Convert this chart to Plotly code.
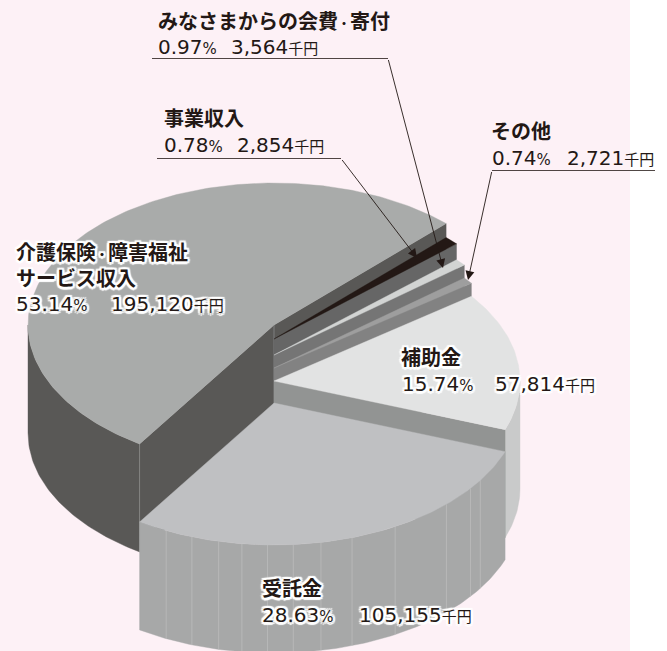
import math
import plotly.graph_objects as go

# ---- data -----------------------------------------------------------------
names = ["介護保険・障害福祉<br>サービス収入", "みなさまからの会費・寄付", "事業収入", "その他", "補助金", "受託金"]
amounts = [195120, 3564, 2854, 2721, 57814, 105155]   # 千円
percents = [53.14, 0.97, 0.78, 0.74, 15.74, 28.63]

# ---- styling / geometry ----------------------------------------------------
W, H = 667, 651
CX, RX, RY, DEPTH = 274, 246, 142, 108
START_DEG = 45.6
clockwise = [1, 2, 3, 4, 5, 0]
centre_y = [325, 339, 355, 368, 381, 403]
top_col = ["#A9ABAA", "#231815", "#D2D4D3", "#9E9E9E", "#E2E3E3", "#BFC0C2"]
wall_col = ["#595856", "#5F5F5F", "#757575", "#828282", "#C9CACA", "#A7A8A8"]
cut_col = ["#595856", "#666666", "#757575", "#828282", "#929493", "#A7A8A8"]
seam_deg = [-116.0, -109.5, -103.0, -97.5, -91.5, -85.5, -79.0, -71.5, -60.5, -45.5, -37.0, -33.0]
INK = "#231815"
HALO = ",".join(f"{dx}px {dy}px 1px #fff" for dx, dy in
                [(2.5, 0), (-2.5, 0), (0, 2.5), (0, -2.5), (2, 2), (-2, 2), (2, -2), (-2, -2)])


def pt(cy, deg, drop=0):
    r = math.radians(deg)
    return CX + RX * math.cos(r), cy - RY * math.sin(r) + drop


def arc(cy, d0, d1, drop=0):
    n = max(2, int(abs(d1 - d0)) + 2)
    return [pt(cy, d0 + (d1 - d0) * i / (n - 1), drop) for i in range(n)]


fig = go.Figure()


def poly(points, color):
    xs = [p[0] for p in points] + [points[0][0]]
    ys = [p[1] for p in points] + [points[0][1]]
    fig.add_trace(go.Scatter(x=xs, y=ys, mode="lines", fill="toself", fillcolor=color,
                             line=dict(color=color, width=0.4), hoverinfo="skip", showlegend=False))


def seg(p, q, color, width=1):
    fig.add_trace(go.Scatter(x=[p[0], q[0]], y=[p[1], q[1]], mode="lines",
                             line=dict(color=color, width=width), hoverinfo="skip", showlegend=False))


# angular span of each slice, clockwise from the start angle
total = sum(amounts)
edge = START_DEG
spans = {}
for i in clockwise:
    next_edge = edge - 360 * amounts[i] / total
    spans[i] = (edge, next_edge)
    edge = next_edge

# slices, back to front
for i in range(len(amounts)):
    hi, lo = spans[i]
    cy = centre_y[i]
    apex = (CX, cy)
    # outer rim: only the part facing the viewer
    a2, b2 = min(hi, 0), max(lo, -180)
    if a2 > b2:
        poly(arc(cy, a2, b2) + arc(cy, b2, a2, DEPTH), wall_col[i])
    # straight cut faces that face the viewer
    for deg, normal in ((hi, hi + 90), (lo, lo - 90)):
        if math.sin(math.radians(normal)) < 0:
            c = pt(cy, deg)
            poly([apex, c, (c[0], c[1] + DEPTH), (CX, cy + DEPTH)], cut_col[i])
    if i == 0:
        c = pt(cy, hi)
        seg(c, (c[0], c[1] + DEPTH), "#8C8C8A", 0.8)
        seg(apex, (CX, cy + 56), "#8C8C8A", 0.8)
    # seams on the rim of the front slice
    if i == 5:
        for d in seam_deg:
            seg(pt(cy, d), pt(cy, d, DEPTH), "#BEBFBF", 0.7)
    # top face
    poly([apex] + arc(cy, hi, lo), top_col[i])

# ---- leader lines ----------------------------------------------------------
leaders = [
    ((152, 58.5), (388, 58.5), (443, 268)),
    ((157, 158.5), (341, 158.5), (417, 258)),
    ((655, 170.5), (492, 170.5), (468, 280)),
]
annotations = []
for a, b, tip in leaders:
    seg(a, b, INK, 0.8)
    annotations.append(dict(x=tip[0], y=tip[1], ax=b[0], ay=b[1], xref="x", yref="y", axref="x", ayref="y",
                            text="", showarrow=True, arrowhead=2, arrowsize=2, arrowwidth=0.9,
                            arrowcolor=INK, standoff=0))

SMALL = '<span style="font-size:15px">{}</span>'
DOT = '<span style="font-size:12px">・</span>'


def money(v):
    return f"{v:,}" + SMALL.format("千円")


def pct(p):
    return f"{p:.2f}" + SMALL.format("%")


def label(x, y, text, heading=False, halo=False):
    annotations.append(dict(x=x, y=y, xref="x", yref="y", xanchor="left", yanchor="middle", showarrow=False,
                            text=text.replace("・", DOT), align="left",
                            font=dict(family="Noto Sans CJK JP" if heading else "DejaVu Sans, Noto Sans CJK JP",
                                      size=20, color=INK, weight=700 if heading else 400,
                                      shadow=HALO if halo else "none")))


# 介護保険
label(14, 264, names[0], True, True)
label(14, 304, pct(percents[0]), False, True)
label(109, 304, money(amounts[0]), False, True)
# 会費
label(156, 20, names[1], True)
label(156, 47, pct(percents[1]), False)
label(229, 47, money(amounts[1]), False)
# 事業
label(162, 117, names[2], True)
label(162, 145, pct(percents[2]), False)
label(235, 145, money(amounts[2]), False)
# その他
label(489, 130, names[3], True)
label(490, 158, pct(percents[3]), False)
label(565, 158, money(amounts[3]), False)
# 補助金
label(399, 356, names[4], True, True)
label(400, 384, pct(percents[4]), False, True)
label(493, 384, money(amounts[4]), False, True)
# 受託金
label(260, 587, names[5], True, True)
label(260, 615, pct(percents[5]), False, True)
label(357, 615, money(amounts[5]), False, True)

fig.update_layout(
    width=W, height=H, margin=dict(l=0, r=0, t=0, b=0), paper_bgcolor="#FFFFFF", plot_bgcolor="rgba(0,0,0,0)",
    xaxis=dict(range=[0, W], visible=False, fixedrange=True),
    yaxis=dict(range=[H, 0], visible=False, fixedrange=True),
    showlegend=False, annotations=annotations,
    shapes=[dict(type="rect", xref="x", yref="y", x0=0, x1=630, y0=0, y1=H, fillcolor="#FDF1F6",
                 line=dict(width=0), layer="below")],
)
fig.write_html("out.html", config=dict(displayModeBar=False),
               post_script="document.body.style.margin='0';document.documentElement.style.overflow='hidden';")
